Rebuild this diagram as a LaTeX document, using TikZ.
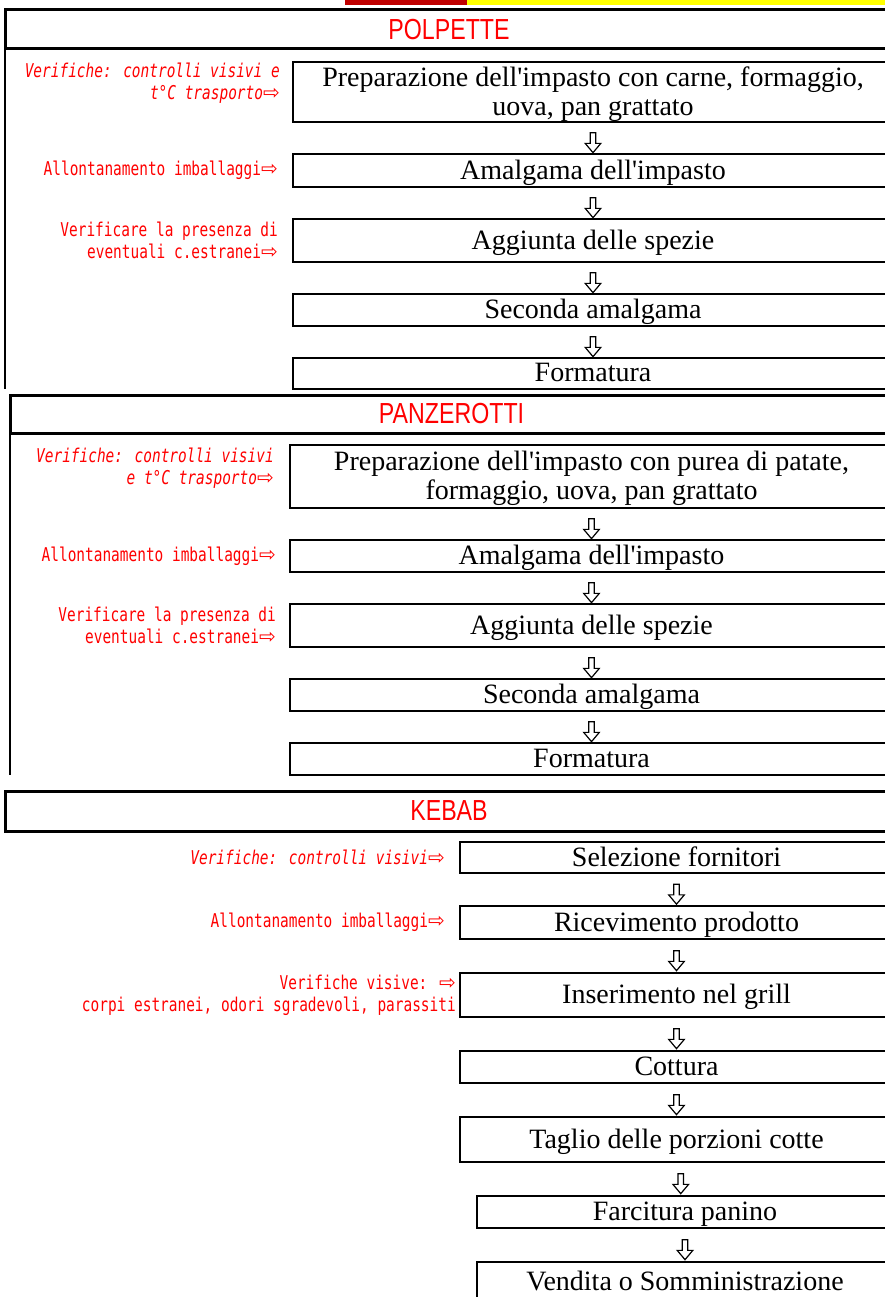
\documentclass[tikz,border=0pt]{standalone}
\usepackage{fontspec}
\setmainfont{Liberation Serif}
\newfontfamily\notefont[FakeStretch=0.76]{DejaVu Sans Mono}
\newfontfamily\titlefont[FakeStretch=0.8]{Liberation Sans}
\newfontfamily\symfont{DejaVu Sans}
\usetikzlibrary{positioning, shapes.arrows}
\definecolor{barred}{RGB}{192,0,0}
\definecolor{baryellow}{RGB}{255,255,0}
\definecolor{notered}{RGB}{255,0,0}
\newcommand{\ra}{{\symfont\fontsize{20}{22}\selectfont ⇨}}
\newcommand{\apo}{\textquotesingle}

\begin{document}
\begin{tikzpicture}[
        x=1pt, y=1pt,
        stepbox/.style={rectangle, draw, line width=2pt, outer sep=0pt, anchor=north west, align=center, inner sep=0pt, text depth=2pt, font=\fontsize{28}{29}\selectfont},
        header/.style={rectangle, draw, line width=3pt, outer sep=0pt, anchor=north west, inner sep=0pt, text=notered, font=\titlefont\fontsize{29}{30}\selectfont},
        checknote/.style={align=right, inner sep=0pt, text=notered, font=\notefont\fontsize{19}{22}\selectfont},
        darr/.style={single arrow, draw, line width=1.2pt, shape border rotate=270, inner xsep=2.2pt, inner ysep=0pt, minimum width=14pt, minimum height=20pt, single arrow tip angle=80, single arrow head extend=5pt, yshift=-3pt},
        sideline/.style={line width=2pt},
      ]
      \useasboundingbox (0,0) rectangle (885,-1297);
      \fill[barred] (345,0) rectangle (467,-5);
      \fill[baryellow] (467,0) rectangle (885,-5);

      \node[header, minimum width=888pt, minimum height=39pt] (h1) at (5,-10) {POLPETTE};
      \node[stepbox, minimum width=600pt, minimum height=60pt] (p1) at (293,-62)
        {Preparazione dell\apo impasto con carne, formaggio,\\ uova, pan grattato};
      \node[stepbox, minimum width=600pt, minimum height=33pt, below=32pt of p1.south west, anchor=north west] (p2) {Amalgama dell\apo impasto};
      \node[stepbox, minimum width=600pt, minimum height=43pt, below=32pt of p2.south west, anchor=north west] (p3) {Aggiunta delle spezie};
      \node[stepbox, minimum width=600pt, minimum height=32pt, below=32pt of p3.south west, anchor=north west] (p4) {Seconda amalgama};
      \node[stepbox, minimum width=600pt, minimum height=31pt, below=32pt of p4.south west, anchor=north west] (p5) {Formatura};
      \node[checknote, left=13pt of p1, yshift=9pt] (pc1) {\itshape Verifiche: controlli visivi e\\ \itshape t°C trasporto\ra};
      \node[checknote, left=15pt of p2] (pc2) {Allontanamento imballaggi\ra};
      \node[checknote, left=15pt of p3] (pc3) {Verificare la presenza di\\ eventuali c.estranei\ra};
      \draw[sideline] (h1.south west) -- (h1.south west |- p5.south);
      \path (p1.south) -- node[darr] {} (p2.north);
      \path (p2.south) -- node[darr] {} (p3.north);
      \path (p3.south) -- node[darr] {} (p4.north);
      \path (p4.south) -- node[darr] {} (p5.north);

      \node[header, minimum width=883pt, minimum height=38pt] (h2) at (10,-395) {PANZEROTTI};
      \node[stepbox, minimum width=603pt, minimum height=63pt] (z1) at (290,-445)
        {Preparazione dell\apo impasto con purea di patate,\\ formaggio, uova, pan grattato};
      \node[stepbox, minimum width=603pt, minimum height=32pt, below=32pt of z1.south west, anchor=north west] (z2) {Amalgama dell\apo impasto};
      \node[stepbox, minimum width=603pt, minimum height=43pt, below=32pt of z2.south west, anchor=north west] (z3) {Aggiunta delle spezie};
      \node[stepbox, minimum width=603pt, minimum height=32pt, below=32pt of z3.south west, anchor=north west] (z4) {Seconda amalgama};
      \node[stepbox, minimum width=603pt, minimum height=32pt, below=32pt of z4.south west, anchor=north west] (z5) {Formatura};
      \node[checknote, left=16pt of z1, yshift=8pt] (zc1) {\itshape Verifiche: controlli visivi\\ \itshape e t°C trasporto\ra};
      \node[checknote, left=14pt of z2] (zc2) {Allontanamento imballaggi\ra};
      \node[checknote, left=14pt of z3] (zc3) {Verificare la presenza di\\ eventuali c.estranei\ra};
      \draw[sideline] (h2.south west) -- (h2.south west |- z5.south);
      \path (z1.south) -- node[darr] {} (z2.north);
      \path (z2.south) -- node[darr] {} (z3.north);
      \path (z3.south) -- node[darr] {} (z4.north);
      \path (z4.south) -- node[darr] {} (z5.north);

      \node[header, minimum width=888pt, minimum height=40pt] (h3) at (5,-791) {KEBAB};
      \node[stepbox, minimum width=433pt, minimum height=31pt] (k1) at (460,-842) {Selezione fornitori};
      \node[stepbox, minimum width=433pt, minimum height=33pt, below=33pt of k1.south west, anchor=north west] (k2) {Ricevimento prodotto};
      \node[stepbox, minimum width=433pt, minimum height=44pt, below=34pt of k2.south west, anchor=north west] (k3) {Inserimento nel grill};
      \node[stepbox, minimum width=433pt, minimum height=32pt, below=34pt of k3.south west, anchor=north west] (k4) {Cottura};
      \node[stepbox, minimum width=433pt, minimum height=45pt, below=34pt of k4.south west, anchor=north west] (k5) {Taglio delle porzioni cotte};
      \node[stepbox, minimum width=416pt, minimum height=32pt, below=34pt of k5.south west, anchor=north west, xshift=17pt] (k6) {Farcitura panino};
      \node[stepbox, minimum width=416pt, minimum height=40pt, below=34pt of k6.south west, anchor=north west] (k7) {Vendita o Somministrazione};
      \node[checknote, left=15pt of k1] (kc1) {\itshape Verifiche: controlli visivi\ra};
      \node[checknote, left=15pt of k2] (kc2) {Allontanamento imballaggi\ra};
      \node[checknote, left=4pt of k3] (kc3) {Verifiche visive: \ra\\ corpi estranei, odori sgradevoli, parassiti};
      \path (k1.south) -- node[darr] {} (k2.north);
      \path (k2.south) -- node[darr] {} (k3.north);
      \path (k3.south) -- node[darr] {} (k4.north);
      \path (k4.south) -- node[darr] {} (k5.north);
      \path (k5.south) -- node[darr] {} (k6.north);
      \path (k6.south) -- node[darr] {} (k7.north);
\end{tikzpicture}
\end{document}
